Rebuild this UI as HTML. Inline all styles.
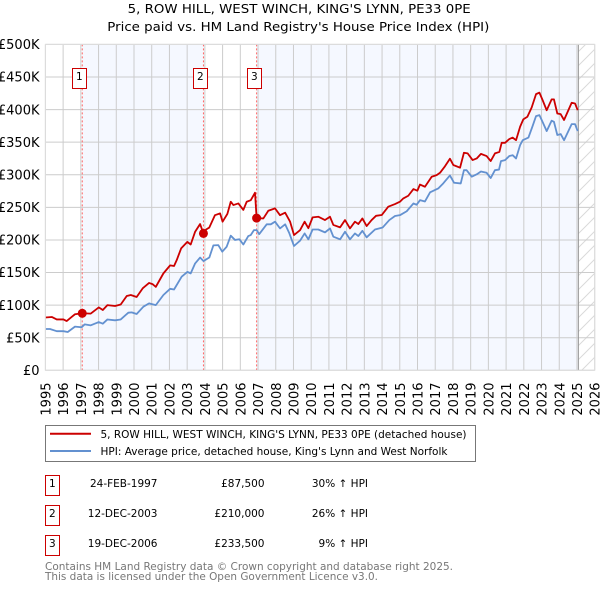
<!DOCTYPE html>
<html lang="en">
<head>
<meta charset="utf-8">
<title>5, ROW HILL, WEST WINCH - Price paid vs. HPI</title>
<style>
html,body{margin:0;padding:0;background:#fff;width:600px;height:590px;overflow:hidden}
svg{display:block}
text{font-family:"DejaVu Sans","Liberation Sans",sans-serif;fill:#000}
</style>
</head>
<body>
<svg id="chart" xmlns="http://www.w3.org/2000/svg" width="600" height="590" viewBox="0 0 600 590">
<defs>
<pattern id="hatch" patternUnits="userSpaceOnUse" width="14" height="14">
<path d="M-2 16L16 -2M-2 2L2 -2M12 16L16 12" stroke="#dadada" stroke-width="1" fill="none"/>
</pattern>
</defs>
<text x="299.2" y="13" text-anchor="middle" font-size="12.5" textLength="343" lengthAdjust="spacingAndGlyphs">5, ROW HILL, WEST WINCH, KING'S LYNN, PE33 0PE</text>
<text x="298.3" y="31" text-anchor="middle" font-size="12.5" textLength="382" lengthAdjust="spacingAndGlyphs">Price paid vs. HM Land Registry's House Price Index (HPI)</text>
<g id="plot"></g>
<g>
<rect x="45.5" y="425.5" width="430" height="36" fill="#fff" stroke="#777" stroke-width="1"/>
<line x1="50" x2="91" y1="433.7" y2="433.7" stroke="#cc0000" stroke-width="2"/>
<text x="100.5" y="438" font-size="11" textLength="366" lengthAdjust="spacingAndGlyphs">5, ROW HILL, WEST WINCH, KING'S LYNN, PE33 0PE (detached house)</text>
<line x1="50" x2="91" y1="451" y2="451" stroke="#6391d0" stroke-width="2"/>
<text x="100.5" y="455" font-size="11" textLength="347" lengthAdjust="spacingAndGlyphs">HPI: Average price, detached house, King's Lynn and West Norfolk</text>
</g>
<g>
<rect x="45.5" y="475.5" width="14" height="20" fill="#fff" stroke="#cc0000" stroke-width="1"/>
<text x="52.3" y="487" text-anchor="middle" font-size="10.5">1</text>
<text x="157.5" y="487" text-anchor="end" font-size="10.5">24-FEB-1997</text>
<text x="264.5" y="487" text-anchor="end" font-size="10.5">£87,500</text>
<text x="368" y="487" text-anchor="end" font-size="10.5">30% ↑ HPI</text>
<rect x="45.5" y="505.5" width="14" height="20" fill="#fff" stroke="#cc0000" stroke-width="1"/>
<text x="52.3" y="517" text-anchor="middle" font-size="10.5">2</text>
<text x="157.5" y="517" text-anchor="end" font-size="10.5">12-DEC-2003</text>
<text x="264.5" y="517" text-anchor="end" font-size="10.5">£210,000</text>
<text x="368" y="517" text-anchor="end" font-size="10.5">26% ↑ HPI</text>
<rect x="45.5" y="535.5" width="14" height="20" fill="#fff" stroke="#cc0000" stroke-width="1"/>
<text x="52.3" y="547" text-anchor="middle" font-size="10.5">3</text>
<text x="157.5" y="547" text-anchor="end" font-size="10.5">19-DEC-2006</text>
<text x="264.5" y="547" text-anchor="end" font-size="10.5">£233,500</text>
<text x="368" y="547" text-anchor="end" font-size="10.5">9% ↑ HPI</text>
</g>
<text x="45" y="570" font-size="11" style="fill:#777" textLength="408" lengthAdjust="spacingAndGlyphs">Contains HM Land Registry data © Crown copyright and database right 2025.</text>
<text x="45" y="580" font-size="11" style="fill:#777" textLength="333" lengthAdjust="spacingAndGlyphs">This data is licensed under the Open Government Licence v3.0.</text>
</svg>
<script>
var yearTicks = [1995,1996,1997,1998,1999,2000,2001,2002,2003,2004,2005,2006,2007,2008,2009,2010,2011,2012,2013,2014,2015,2016,2017,2018,2019,2020,2021,2022,2023,2024,2025,2026];
var priceTicks = [0,50,100,150,200,250,300,350,400,450,500];
var priceTickLabels = ['£0','£50K','£100K','£150K','£200K','£250K','£300K','£350K','£400K','£450K','£500K'];
var saleLabels = ['1','2','3'];
var saleYears = [1997.08,2003.92,2006.92];
var salePrices = [87.5,210,233.5];
var dataEndYear = 2025.08;
var priceYears = [1995,1995.36,1995.64,1996.02,1996.2,1996.49,1996.67,1997.08,1997.56,1998.01,1998.24,1998.5,1998.93,1999.25,1999.59,1999.82,2000.15,2000.49,2000.85,2001.06,2001.23,2001.66,2002.04,2002.26,2002.41,2002.66,2003.01,2003.2,2003.45,2003.73,2003.92,2004.07,2004.25,2004.57,2004.86,2005,2005.27,2005.46,2005.61,2005.89,2006.17,2006.36,2006.59,2006.83,2006.92,2007.3,2007.58,2007.96,2008.24,2008.53,2008.81,2009.03,2009.37,2009.63,2009.84,2010.08,2010.4,2010.78,2011.06,2011.25,2011.63,2011.91,2012.19,2012.47,2012.66,2012.89,2013.13,2013.41,2013.66,2013.98,2014.35,2014.73,2015.01,2015.2,2015.48,2015.77,2015.99,2016.14,2016.42,2016.8,2017.08,2017.27,2017.55,2017.83,2018.02,2018.4,2018.62,2018.83,2019.11,2019.34,2019.58,2019.9,2020.13,2020.37,2020.62,2020.75,2020.94,2021.18,2021.37,2021.56,2021.79,2021.97,2022.2,2022.44,2022.69,2022.88,2023.06,2023.29,2023.57,2023.7,2023.89,2024.08,2024.27,2024.7,2024.89,2025.04];
var priceValues = [81,81.8,78,78,75.6,82,86,87.5,87,96.5,92.5,100,98.6,101,114,115.5,112.5,125.7,134,132,128,148.7,161,160,169,187,197,193,212.6,224.4,210,216,219,238,240.7,228,240,258.6,253.5,256,246,258.6,261,272.4,233.5,233,244.8,248.4,238,241.8,228,207.5,215,228,218,234.6,235.6,230.5,235.6,223,219.3,230.5,217.7,228,224.4,233,221.3,230.5,237,238.2,251,255,258.6,263.7,267.8,278,275.5,285,281.6,297,299.5,303,313,324.6,315,310.8,333.8,332.8,322.5,325,332,328.7,321,332.8,335,349,349,354.7,357,353,373.6,385,389,403,423.7,426,414.5,399,415.6,415.6,394,393,384,410.5,409.4,399];
var hpiYears = [1995,1995.26,1995.64,1996.02,1996.26,1996.67,1997.04,1997.22,1997.56,1998.01,1998.24,1998.5,1998.93,1999.25,1999.68,1999.87,2000.15,2000.53,2000.85,2001.23,2001.66,2002.04,2002.26,2002.69,2003.01,2003.2,2003.45,2003.73,2003.92,2004.25,2004.48,2004.76,2004.98,2005.23,2005.46,2005.7,2005.95,2006.17,2006.45,2006.59,2006.77,2006.92,2007.07,2007.49,2007.72,2007.96,2008.24,2008.53,2008.77,2009.03,2009.37,2009.63,2009.84,2010.08,2010.4,2010.78,2011.06,2011.25,2011.63,2011.91,2012.19,2012.47,2012.66,2012.89,2013.13,2013.6,2014.03,2014.41,2014.73,2015.01,2015.39,2015.77,2015.95,2016.14,2016.42,2016.71,2017.17,2017.46,2017.83,2018.06,2018.44,2018.62,2018.77,2019.06,2019.34,2019.58,2019.9,2020.13,2020.37,2020.6,2020.71,2020.94,2021.18,2021.37,2021.56,2021.79,2021.94,2022.26,2022.48,2022.69,2022.88,2023.06,2023.29,2023.57,2023.7,2023.89,2024.08,2024.27,2024.7,2024.89,2025.04];
var hpiValues = [63.4,63.4,60,60,58.8,67,66,70.5,69,74,71.5,78,76.7,78,88.4,88.9,86.4,97.6,102.7,100,115.5,125,124,143.6,151,148.7,164,173,167.6,173,191.7,192,182,189.6,206.5,200,201,193,206,207.5,215,215,209,224,224,228,217.7,224,210,190.7,198.8,210,200.9,216,216,211.6,217.7,205,200.9,212.6,200.9,210,206,214,204,216,219,230.5,236.7,238,244,256,254,261,259,273,279,287,299,287.8,286.7,307,307,297,300.6,305,303,295,307,308,321,322.5,328.7,330,325,345.5,353,357,373.6,390,391.5,381,367,383,381.3,361,362.4,353,377.7,377.7,367];

var NS = 'http://www.w3.org/2000/svg';
var plot = document.getElementById('plot');
var plotLeft = 45.4, plotRight = 594.7, plotTop = 44.4, plotBottom = 370.3;
function xScale(year){ return plotLeft + (year - 1995) * (plotRight - plotLeft) / 31; }
function yScale(value){ return plotBottom - value * (plotBottom - plotTop) / 500; }
function make(tag, attrs, parent){
  var el = document.createElementNS(NS, tag);
  for (var k in attrs) el.setAttribute(k, attrs[k]);
  (parent || plot).appendChild(el);
  return el;
}
function linePath(xs, ys){
  var d = '';
  for (var i = 0; i < xs.length; i++) d += (i ? 'L' : 'M') + xScale(xs[i]).toFixed(2) + ' ' + yScale(ys[i]).toFixed(2);
  return d;
}
var el, i;
var bandStarts = [saleYears[0], saleYears[2]];
var bandEnds = [saleYears[1], dataEndYear];
for (i = 0; i < bandStarts.length; i++) {
  el = make('rect', {x: xScale(bandStarts[i]), y: plotTop, width: xScale(bandEnds[i]) - xScale(bandStarts[i]), height: plotBottom - plotTop, fill: '#f5f8ff'});
  
  
}
el = make('rect', {x: xScale(dataEndYear), y: plotTop, width: plotRight - xScale(dataEndYear), height: plotBottom - plotTop, fill: 'url(#hatch)'});


for (i = 0; i < priceTicks.length; i++) {
  el = make('line', {x1: plotLeft, x2: plotRight, y1: yScale(priceTicks[i]), y2: yScale(priceTicks[i]), stroke: '#cccccc', 'stroke-width': 1});
  
  
  el = make('text', {x: 39.5, y: yScale(priceTicks[i]) + 4.7, 'text-anchor': 'end', 'font-size': 13});
  
  
  el.textContent = priceTickLabels[i];
}
for (i = 0; i < yearTicks.length; i++) {
  var gx = xScale(yearTicks[i]);
  el = make('line', {x1: gx, x2: gx, y1: plotTop, y2: plotBottom, stroke: '#cccccc', 'stroke-width': 1});
  
  
  el = make('text', {x: 0, y: 0, 'text-anchor': 'end', 'font-size': 13, transform: 'translate(' + (gx + 5).toFixed(2) + ' 382.5) rotate(-90)'});
  
  
  el.textContent = yearTicks[i];
}
el = make('line', {x1: xScale(dataEndYear), x2: xScale(dataEndYear), y1: plotTop, y2: plotBottom, stroke: '#999999', 'stroke-width': 1});


for (i = 0; i < saleYears.length; i++) {
  var sx = xScale(saleYears[i]);
  el = make('line', {x1: sx, x2: sx, y1: plotTop, y2: plotBottom, stroke: '#ff6666', 'stroke-width': 1, 'stroke-dasharray': '2 2'});
  
  
}
el = make('path', {d: linePath(hpiYears, hpiValues), fill: 'none', stroke: '#6391d0', 'stroke-width': 1.8, 'stroke-linejoin': 'round'});


el = make('path', {d: linePath(priceYears, priceValues), fill: 'none', stroke: '#cc0000', 'stroke-width': 1.8, 'stroke-linejoin': 'round'});


for (i = 0; i < saleYears.length; i++) {
  el = make('circle', {cx: xScale(saleYears[i]), cy: yScale(salePrices[i]), r: 4.5, fill: '#cc0000'});
  
  
  var bx = xScale(saleYears[i]) - 3;
  el = make('rect', {x: Math.round(bx - 7) + 0.5, y: 68.5, width: 14, height: 20, fill: '#fff', stroke: '#cc0000', 'stroke-width': 1});
  
  
  el = make('text', {x: Math.round(bx - 7) + 7.3, y: 80, 'text-anchor': 'middle', 'font-size': 10.5});
  
  
  el.textContent = saleLabels[i];
}
el = make('rect', {x: plotLeft, y: plotTop, width: plotRight - plotLeft, height: plotBottom - plotTop, fill: 'none', stroke: '#dddddd', 'stroke-width': 1});


</script>
</body>
</html>
